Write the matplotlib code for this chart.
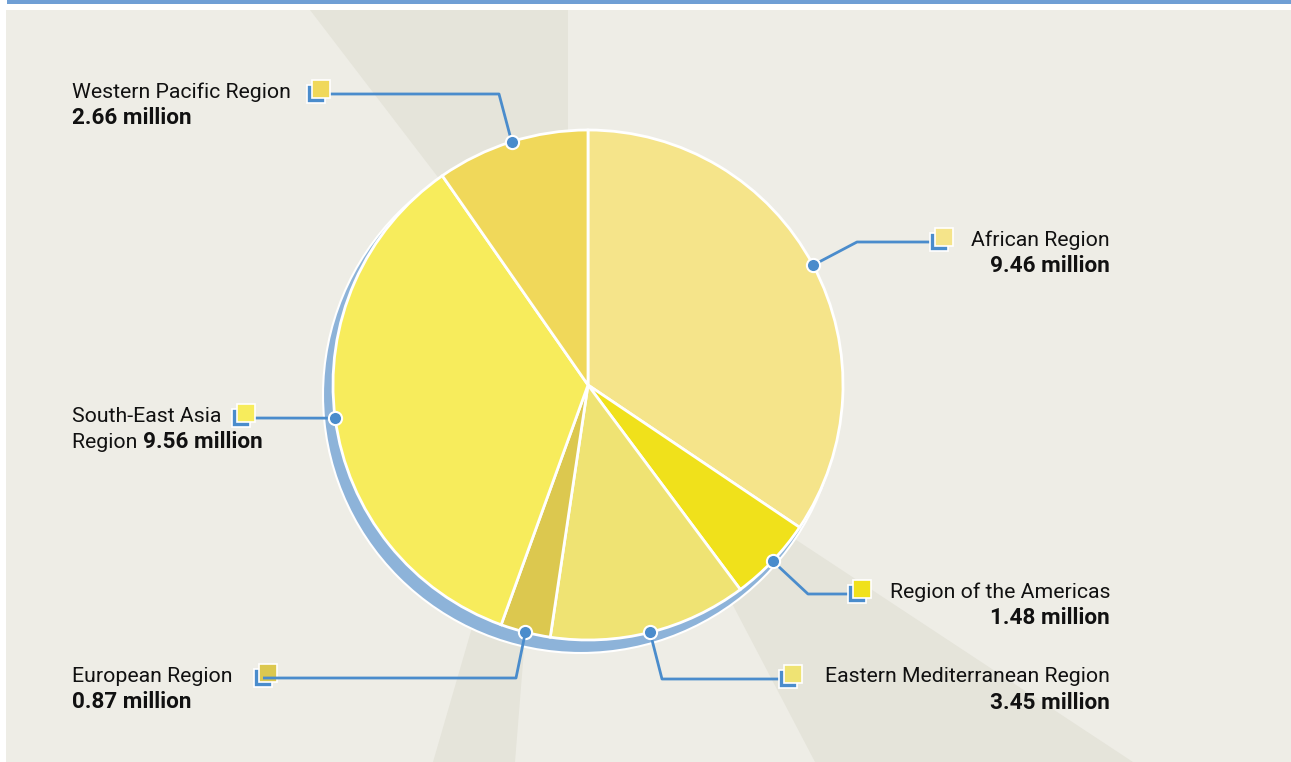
import matplotlib
matplotlib.use("Agg")
import matplotlib.pyplot as plt
from matplotlib.patches import Rectangle, Polygon, Circle
import numpy as np

# ---------------- data ----------------
regions = ["African Region", "Region of the Americas", "Eastern Mediterranean Region",
           "European Region", "South-East Asia Region", "Western Pacific Region"]
values = [9.46, 1.48, 3.45, 0.87, 9.56, 2.66]
value_labels = ["9.46 million", "1.48 million", "3.45 million",
                "0.87 million", "9.56 million", "2.66 million"]

# ---------------- styles ----------------
colors = ["#f5e48a", "#f0e11b", "#efe373", "#dcc84f", "#f7ec5c", "#f0d85a"]
BG = "#eeede6"
BEAM = "#e5e4da"
BLUE = "#4a8ccc"
SHADOW = "#8db3d9"
TOP = "#6f9fd5"
FONT = "Roboto"
FS = 15.3
FSB = 16.2

W, H = 1291, 762
CX, CY, R = 588, 385, 255

# label layout (pixel coords, y down): blue icon centre, elbow, text anchor
layout = {
    "African Region": dict(icon=(939, 242), elbow=(857, 242), text=(1110, 240), ha="right"),
    "Region of the Americas": dict(icon=(857, 594), elbow=(808, 594), text=(1110, 592), ha="right"),
    "Eastern Mediterranean Region": dict(icon=(788, 679), elbow=(662, 679), text=(1110, 677), ha="right"),
    "European Region": dict(icon=(263, 678), elbow=(516, 678), text=(72, 676), ha="left"),
    "South-East Asia Region": dict(icon=(241, 418), elbow=None, text=(72, 416), ha="left"),
    "Western Pacific Region": dict(icon=(316, 94), elbow=(499, 94), text=(72, 92), ha="left"),
}

fig = plt.figure(figsize=(W / 100, H / 100), dpi=100)
fig.patch.set_facecolor("white")
ax = fig.add_axes([0, 0, 1, 1])

# background panel + top strip
ax.add_patch(Rectangle((6, 10), W - 6, H - 10, facecolor=BG, edgecolor="none", zorder=0))
ax.add_patch(Rectangle((7, 0), W - 7, 4, facecolor=TOP, edgecolor="none", zorder=0))

# light beams
beams = [
    [(310, 10), (568, 10), (568, 385), (597, 385)],
    [(433, 762), (515, 762), (528, 600), (480, 600)],
    [(715, 571), (815, 762), (1133, 762), (763, 518)],
]
for b in beams:
    ax.add_patch(Polygon(b, closed=True, facecolor=BEAM, edgecolor="none", zorder=1))

# shadow disc
ax.add_patch(Circle((581, 395), 258, facecolor=SHADOW, edgecolor="white", lw=1.5, zorder=2))

wedges, _ = ax.pie(values, colors=colors, startangle=-90, counterclock=True,
                   center=(CX, CY), radius=R, frame=True,
                   wedgeprops=dict(edgecolor="white", linewidth=2, zorder=3))
for w in wedges:
    w.set_zorder(3)

ax.set_xlim(0, W)
ax.set_ylim(H, 0)
ax.set_aspect("equal")
ax.axis("off")

fig.canvas.draw()
renderer = fig.canvas.get_renderer()

for w, name, lab, col in zip(wedges, regions, value_labels, colors):
    mid = np.deg2rad((w.theta1 + w.theta2) / 2)
    px = w.center[0] + w.r * np.cos(mid)
    py = w.center[1] + w.r * np.sin(mid)
    L = layout[name]
    ix, iy = L["icon"]
    pts = [(px, py)]
    if L["elbow"] is not None:
        pts.append(L["elbow"])
    pts.append((ix, iy))
    xs, ys = zip(*pts)
    line_z = 9 if name == "European Region" else 5
    ax.plot(xs, ys, color=BLUE, lw=2, zorder=line_z, solid_capstyle="butt")
    ax.plot([px], [py], "o", color=BLUE, ms=9.5, mec="white", mew=1.5, zorder=6)
    # icon: blue back square + coloured front square
    s = 18
    ax.add_patch(Rectangle((ix - s / 2, iy - s / 2), s, s, facecolor=BLUE,
                           edgecolor="white", lw=1.2, zorder=7))
    ax.add_patch(Rectangle((ix - s / 2 + 5, iy - s / 2 - 5), s, s, facecolor=col,
                           edgecolor="white", lw=1.2, zorder=8))
    tx, ty = L["text"]
    ha = L["ha"]
    if name == "South-East Asia Region":
        ax.text(tx, ty, "South-East Asia", ha=ha, va="center", fontsize=FS,
                family=FONT, color="#111111", zorder=10)
        t = ax.text(tx, ty + 26, "Region ", ha="left", va="center", fontsize=FS,
                    family=FONT, color="#111111", zorder=10)
        bb = t.get_window_extent(renderer)
        ax.text(tx + bb.width, ty + 26, lab, ha="left", va="center", fontsize=FSB,
                family=FONT, weight="bold", color="#111111", zorder=10)
    else:
        ax.text(tx, ty, name, ha=ha, va="center", fontsize=FS,
                family=FONT, color="#111111", zorder=10)
        ax.text(tx, ty + 26, lab, ha=ha, va="center", fontsize=FSB,
                family=FONT, weight="bold", color="#111111", zorder=10)

fig.savefig("out.png", dpi=100, facecolor=fig.get_facecolor())
